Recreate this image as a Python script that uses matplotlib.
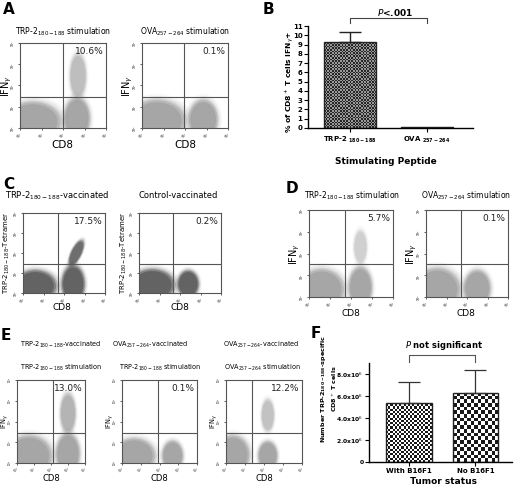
import numpy as np
import matplotlib
matplotlib.use('Agg')
import matplotlib.pyplot as plt
from matplotlib.patches import Ellipse

W, H = 520, 486

# ---- bar chart data ----
b_labels = ['TRP-2 $_{\\mathregular{180-188}}$', 'OVA $_{\\mathregular{257-264}}$']
b_values = [9.3, 0.15]
b_errors = [1.1, 0.0]

f_labels = ['With B16F1', 'No B16F1']
f_values = [5.4e6, 6.3e6]
f_errors = [1.9e6, 2.1e6]

# ---- flow plot data: quadrant gates (log10 units) and cell clusters ----
# cluster = (cx, cy, width, height, angle, density)
dot_plots = {
    'A1': dict(gate=(2.0, 1.46), pct='10.6%', clusters=[(0.6, 0.3, 2.8, 2.0, 0, 1.0), (2.65, 0.45, 1.3, 2.1, 0, 1.0), (2.7, 2.45, 0.85, 2.3, 0, 0.55)]),
    'A2': dict(gate=(1.95, 1.46), pct='0.1%', clusters=[(0.7, 0.35, 2.8, 2.1, 0, 1.0), (2.85, 0.4, 1.45, 2.0, 0, 1.0)]),
    'C1': dict(gate=(1.7, 1.45), pct='17.5%', clusters=[(0.6, 0.35, 2.2, 1.7, 0, 1.0), (2.45, 0.45, 1.2, 2.0, 0, 1.0), (2.6, 2.0, 0.55, 1.5, -25, 0.85)]),
    'C2': dict(gate=(1.66, 1.45), pct='0.2%', clusters=[(0.65, 0.4, 2.3, 1.7, 0, 1.0), (2.4, 0.45, 1.1, 1.45, 0, 1.0)]),
    'D1': dict(gate=(1.7, 1.5), pct='5.7%', clusters=[(0.6, 0.35, 2.3, 2.0, 0, 1.0), (2.45, 0.45, 1.2, 2.0, 0, 1.0), (2.45, 2.3, 0.7, 1.7, 0, 0.35)]),
    'D2': dict(gate=(1.7, 1.5), pct='0.1%', clusters=[(0.55, 0.35, 2.4, 2.1, 0, 1.0), (2.5, 0.4, 1.4, 1.8, 0, 1.0)]),
    'E1': dict(gate=(2.1, 1.45), pct='13.0%', clusters=[(0.7, 0.35, 2.9, 2.1, 0, 1.0), (3.0, 0.45, 1.5, 2.1, 0, 1.0), (3.0, 2.4, 1.0, 2.1, 0, 0.7)]),
    'E2': dict(gate=(1.9, 1.45), pct='0.1%', clusters=[(0.65, 0.35, 2.4, 1.8, 0, 1.0), (2.7, 0.35, 1.2, 1.55, 0, 1.0)]),
    'E3': dict(gate=(1.37, 1.45), pct='12.2%', clusters=[(0.35, 0.4, 1.9, 2.0, 0, 1.0), (2.2, 0.35, 1.1, 1.5, 0, 1.0), (2.2, 2.3, 0.75, 1.7, 0, 0.5)]),
}


def px_axes(x0, y0, x1, y1):
    return fig.add_axes([x0 / W, 1 - y1 / H, (x1 - x0) / W, (y1 - y0) / H])


def px_text(x, y, s, **kw):
    kw.setdefault('ha', 'center')
    kw.setdefault('va', 'center')
    fig.text(x / W, 1 - y / H, s, **kw)


def dot_plot(ax, key, dot_color, tick_fs=2.2):
    d = dot_plots[key]
    for cx, cy, w, h, ang, dk in d['clusters']:
        for s, a in [(1.2, 0.07), (1.1, 0.15), (1.0, 0.3), (0.92, 0.45), (0.82, 0.6)]:
            ax.add_patch(Ellipse((cx, cy), w * s, h * s, angle=ang,
                                 facecolor=dot_color, edgecolor='none', alpha=a * dk))
    gx, gy = d['gate']
    ax.axvline(gx, color='#555555', lw=0.8)
    ax.axhline(gy, color='#555555', lw=0.8)
    ax.set_xlim(0, 4)
    ax.set_ylim(0, 4)
    ticks = [0, 1, 2, 3, 4]
    labs = ['$10^%d$' % t for t in ticks]
    ax.set_xticks(ticks)
    ax.set_xticklabels(labs, fontsize=tick_fs, rotation=45)
    ax.set_yticks(ticks)
    ax.set_yticklabels(labs, fontsize=tick_fs, rotation=90)
    ax.tick_params(length=1.5, width=0.6, pad=0.4, color='#444444')
    for sp in ax.spines.values():
        sp.set_linewidth(0.8)
        sp.set_color('#555555')
    ax.text(0.97, 0.95, d['pct'], transform=ax.transAxes, ha='right', va='top', fontsize=6.5, color='#222222')


def checker_fill(ax, patch, cell_px, c_dark, c_light, px_per_x, px_per_y):
    x0, y0 = patch.get_x(), patch.get_y()
    w, h = patch.get_width(), patch.get_height()
    nx = max(1, int(round(w * px_per_x / cell_px)))
    ny = max(1, int(round(h * px_per_y / cell_px)))
    grid = np.add.outer(np.arange(ny), np.arange(nx)) % 2
    img = np.where(grid[..., None] == 1, np.array(c_dark), np.array(c_light))
    im = ax.imshow(img, extent=[x0, x0 + w, y0, y0 + h], aspect='auto',
                   interpolation='nearest', zorder=1.5)
    im.set_clip_path(patch)


fig = plt.figure(figsize=(W / 100, H / 100), dpi=100)

light = '#9a9a9a'
dark = '#4f4f4f'
ifn = 'IFN$_\\gamma$'
trp = 'TRP-2$_{\\mathregular{180-188}}$'
ova = 'OVA$_{\\mathregular{257-264}}$'

# ---------------- A ----------------
px_text(9, 10, 'A', fontsize=11, fontweight='bold')
ax = px_axes(20, 43, 106, 128)
dot_plot(ax, 'A1', light)
px_text(63, 32, trp + ' stimulation', fontsize=5.5)
px_text(62, 145, 'CD8', fontsize=7.5)
px_text(7, 86, ifn, fontsize=7, rotation=90)
ax = px_axes(142, 43, 228, 128)
dot_plot(ax, 'A2', light)
px_text(185, 32, ova + ' stimulation', fontsize=5.5)
px_text(185, 145, 'CD8', fontsize=7.5)
px_text(128, 86, ifn, fontsize=7, rotation=90)

# ---------------- B ----------------
px_text(268, 10, 'B', fontsize=11, fontweight='bold')
ax = px_axes(308, 26, 473, 128)
xb = np.arange(len(b_values))
bars = ax.bar(xb, b_values, width=0.68, color='none', edgecolor='#222222', linewidth=1.0, zorder=2)
ax.set_xlim(-0.55, 1.6)
ax.set_ylim(0, 11)
for b in bars:
    checker_fill(ax, b, 1.6, (0.15, 0.15, 0.15), (0.6, 0.6, 0.6), 165 / 2.15, 102 / 11)
ax.errorbar(xb[:1], b_values[:1], yerr=[[0], b_errors[:1]], fmt='none', ecolor='#222222', elinewidth=1.0, capsize=8, capthick=1.0)
ax.set_xlim(-0.55, 1.6)
ax.set_ylim(0, 11)
ax.set_yticks(range(0, 12))
ax.tick_params(axis='y', labelsize=5, length=3, width=0.8, pad=1)
ax.set_xticks(xb)
ax.set_xticklabels(b_labels, fontsize=5, fontweight='bold')
ax.tick_params(axis='x', length=3, width=0.8, pad=2)
for lab in ax.get_yticklabels():
    lab.set_fontweight('bold')
ax.spines['top'].set_visible(False)
ax.spines['right'].set_visible(False)
for sp in ['left', 'bottom']:
    ax.spines[sp].set_linewidth(1.0)
px_text(386, 161, 'Stimulating Peptide', fontsize=6.5, fontweight='bold')
px_text(290, 82, '% of CD8$^+$ T cells IFN$_\\gamma$+', fontsize=5.4, fontweight='bold', rotation=90)
ax.plot([0, 0, 1, 1], [11.3, 11.9, 11.9, 11.3], color='#444444', lw=0.8, clip_on=False)
px_text(395, 13, '$\\it{P}$<.001', fontsize=6.5, fontweight='bold')

# ---------------- C ----------------
px_text(9, 184, 'C', fontsize=11, fontweight='bold')
ax = px_axes(23, 213, 105, 293)
dot_plot(ax, 'C1', dark)
px_text(57, 196, trp + '-vaccinated', fontsize=6)
px_text(62, 308, 'CD8', fontsize=6.5)
px_text(7, 253, trp + '-Tetramer', fontsize=5, rotation=90)
ax = px_axes(139, 213, 221, 293)
dot_plot(ax, 'C2', dark)
px_text(178, 196, 'Control-vaccinated', fontsize=6)
px_text(180, 308, 'CD8', fontsize=6.5)
px_text(124, 253, trp + '-Tetramer', fontsize=5, rotation=90)

# ---------------- D ----------------
px_text(292, 188, 'D', fontsize=11, fontweight='bold')
ax = px_axes(309, 210, 393, 297)
dot_plot(ax, 'D1', light)
px_text(352, 196, trp + ' stimulation', fontsize=5.5)
px_text(351, 313, 'CD8', fontsize=6.5)
px_text(295, 254, ifn, fontsize=7, rotation=90)
ax = px_axes(426, 210, 508, 297)
dot_plot(ax, 'D2', light)
px_text(466, 196, ova + ' stimulation', fontsize=5.5)
px_text(466, 313, 'CD8', fontsize=6.5)
px_text(412, 254, ifn, fontsize=7, rotation=90)

# ---------------- E ----------------
px_text(6, 335, 'E', fontsize=11, fontweight='bold')
e_titles = [(trp + '-vaccinated', trp + ' stimulation'),
            (ova + '-vaccinated', trp + ' stimulation'),
            (ova + '-vaccinated', ova + ' stimulation')]
e_title_x = [(61, 61), (150, 160), (261, 262)]
e_boxes = [(17, 85), (122, 197), (226, 302)]
for (t1, t2), (c1, c2), (x0, x1), key in zip(e_titles, e_title_x, e_boxes, ['E1', 'E2', 'E3']):
    ax = px_axes(x0, 380, x1, 463)
    dot_plot(ax, key, light, tick_fs=1.8)
    px_text(c1, 345, t1, fontsize=4.7)
    px_text(c2, 368, t2, fontsize=4.7)
    px_text((x0 + x1) / 2, 478, 'CD8', fontsize=6)
    px_text(x0 - 11.5, 421, ifn, fontsize=4.8, rotation=90)

# ---------------- F ----------------
px_text(316, 333, 'F', fontsize=11, fontweight='bold')
ax = px_axes(369, 363, 512, 462)
xf = np.arange(len(f_values))
bars = ax.bar(xf, f_values, width=0.68, color='none', edgecolor='#222222', linewidth=1.0, zorder=2)
ax.set_xlim(-0.6, 1.55)
ax.set_ylim(0, 9e6)
for b, cell in zip(bars, [2.2, 3.6]):
    checker_fill(ax, b, cell, (0.1, 0.1, 0.1), (1, 1, 1), 143 / 2.15, 99 / 9e6)
ax.errorbar(xf, f_values, yerr=[[0, 0], f_errors], fmt='none', ecolor='#333333', elinewidth=0.9, capsize=8, capthick=0.9)
ax.set_xlim(-0.6, 1.55)
ax.set_ylim(0, 9e6)
yt = [0, 2e6, 4e6, 6e6, 8e6]
ax.set_yticks(yt)
ax.set_yticklabels(['0', '2.0x10$^6$', '4.0x10$^6$', '6.0x10$^6$', '8.0x10$^6$'], fontsize=4.3, fontweight='bold')
ax.set_xticks(xf)
ax.set_xticklabels(f_labels, fontsize=5, fontweight='bold')
ax.tick_params(length=3, width=0.8, pad=1)
ax.spines['top'].set_visible(False)
ax.spines['right'].set_visible(False)
for sp in ['left', 'bottom']:
    ax.spines[sp].set_linewidth(1.0)
ax.plot([0, 0, 1, 1], [9.05e6, 9.7e6, 9.7e6, 9.05e6], color='#555555', lw=0.8, clip_on=False)
px_text(444, 346, '$\\it{P}$ not significant', fontsize=6, fontweight='bold')
px_text(444, 481, 'Tumor status', fontsize=6.5, fontweight='bold')
px_text(324, 389, 'Number TRP-2$_{\\mathregular{180-188}}$-specific', fontsize=4.6, fontweight='bold', rotation=90)
px_text(335, 389, 'CD8$^+$ T cells', fontsize=4.6, fontweight='bold', rotation=90)

fig.savefig('out.png', dpi=100)
